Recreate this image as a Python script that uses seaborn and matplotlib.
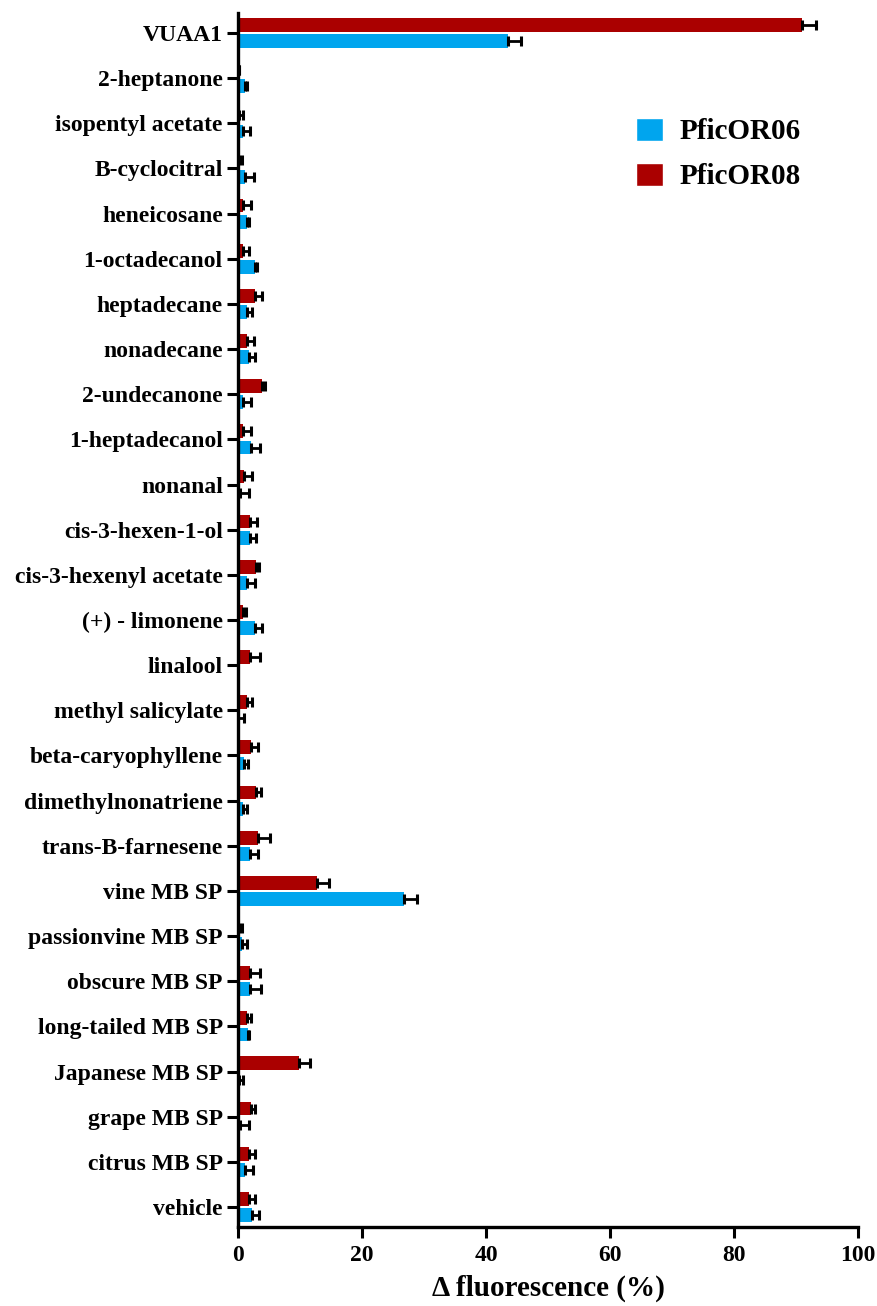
import matplotlib
matplotlib.use("Agg")
import matplotlib.pyplot as plt
from matplotlib.patches import Patch
import seaborn as sns
import numpy as np
import pandas as pd

compounds = [
    "VUAA1", "2-heptanone", "isopentyl acetate", "B-cyclocitral", "heneicosane",
    "1-octadecanol", "heptadecane", "nonadecane", "2-undecanone", "1-heptadecanol",
    "nonanal", "cis-3-hexen-1-ol", "cis-3-hexenyl acetate", "(+) - limonene",
    "linalool", "methyl salicylate", "beta-caryophyllene", "dimethylnonatriene",
    "trans-B-farnesene", "vine MB SP", "passionvine MB SP", "obscure MB SP",
    "long-tailed MB SP", "Japanese MB SP", "grape MB SP", "citrus MB SP", "vehicle",
]

# PficOR08 (red)
or08_mean = [90.9, 0.1, 0.1, 0.1, 0.86, 0.86, 2.7, 1.5, 3.8, 0.86,
             1.0, 2.0, 2.96, 0.86, 1.9, 1.5, 2.15, 2.96, 3.3, 12.8,
             0.1, 2.0, 1.5, 9.9, 2.15, 1.83, 1.83]
or08_err = [2.4, 0.1, 0.75, 0.55, 1.3, 0.9, 1.2, 1.0, 0.6, 1.3,
            1.2, 1.05, 0.35, 0.35, 1.7, 0.75, 1.15, 0.7, 1.8, 1.9,
            0.6, 1.6, 0.65, 1.7, 0.65, 0.95, 0.95]

# PficOR06 (blue)
or06_mean = [43.6, 1.07, 0.86, 1.07, 1.4, 2.7, 1.4, 1.72, 0.86, 2.15,
             0.3, 1.9, 1.5, 2.7, 0.0, 0.05, 1.0, 0.86, 1.9, 26.8,
             0.7, 2.0, 1.67, 0.2, 0.4, 1.18, 2.3]
or06_err = [2.0, 0.33, 1.15, 1.45, 0.45, 0.4, 0.9, 1.1, 1.3, 1.45,
            1.4, 1.05, 1.2, 1.2, 0.0, 0.9, 0.65, 0.55, 1.4, 2.0,
            0.8, 1.75, 0.1, 0.65, 1.3, 1.2, 1.15]

receptors = ["PficOR08", "PficOR06"]
colors = {"PficOR06": "#00A5EE", "PficOR08": "#AA0000"}

df = pd.DataFrame({
    "compound": compounds * 2,
    "receptor": ["PficOR08"] * len(compounds) + ["PficOR06"] * len(compounds),
    "value": or08_mean + or06_mean,
})
errs = {"PficOR08": or08_err, "PficOR06": or06_err}

sns.set_style("ticks")
plt.rcParams["font.family"] = ["Liberation Serif", "DejaVu Serif"]
plt.rcParams["font.weight"] = "bold"
plt.rcParams.update({
    "text.color": "black", "axes.labelcolor": "black", "axes.edgecolor": "black",
    "xtick.color": "black", "ytick.color": "black",
})

fig = plt.figure(figsize=(8.77, 13.06), dpi=100)
ax = fig.add_axes([238 / 877, 79 / 1306, 620 / 877, 1214 / 1306])

sns.barplot(data=df, x="value", y="compound", hue="receptor",
            hue_order=receptors, palette=colors, order=compounds,
            orient="h", width=0.72, gap=0.15, errorbar=None,
            legend=False, ax=ax, saturation=1, linewidth=0)

# error bars (positive side only) placed on the drawn bars
for cont, rec in zip(ax.containers, receptors):
    ys = np.array([b.get_y() + b.get_height() / 2 for b in cont])
    xs = np.array([b.get_width() for b in cont])
    e = np.array(errs[rec])
    keep = e > 0
    ax.errorbar(xs[keep], ys[keep], xerr=[np.zeros(keep.sum()), e[keep]],
                fmt="none", ecolor="black", elinewidth=2.0,
                capsize=3.4, capthick=2.2, zorder=3)

ax.set_xlim(0, 100)
ax.set_xticks([0, 20, 40, 60, 80, 100])
ax.set_ylim(len(compounds) - 1 + 0.443, -0.443)

sns.despine(ax=ax)
for s in ["left", "bottom"]:
    ax.spines[s].set_linewidth(2.4)
    ax.spines[s].set_color("black")
ax.tick_params(axis="both", width=2.2, length=8, labelsize=17, colors="black")
ax.tick_params(axis="y", pad=3)
ax.tick_params(axis="x", pad=5)
for lab in ax.get_xticklabels() + ax.get_yticklabels():
    lab.set_fontweight("bold")

ax.set_ylabel("")
ax.set_xlabel("Δ fluorescence (%)", fontsize=21, fontweight="bold", labelpad=6,
              color="black")

handles = [Patch(facecolor=colors["PficOR06"], label="PficOR06"),
           Patch(facecolor=colors["PficOR08"], label="PficOR08")]
fig.legend(handles=handles, loc="center left",
           bbox_to_anchor=(636 / 877, 1 - 154 / 1306),
           frameon=False, labelcolor="black",
           prop={"family": "Liberation Serif", "weight": "bold", "size": 21},
           handlelength=0.93, handleheight=0.85, handletextpad=0.55,
           labelspacing=0.6, borderpad=0, borderaxespad=0)

fig.savefig("out.png", dpi=100)
